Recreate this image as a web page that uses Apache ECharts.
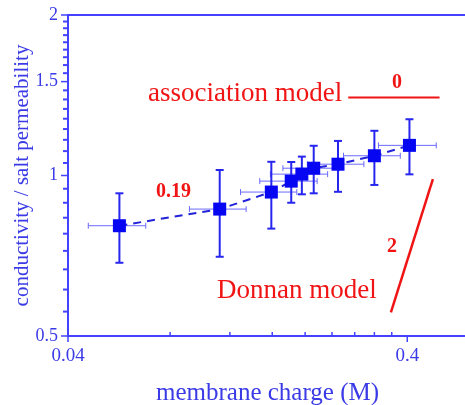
<!DOCTYPE html>
<html>
<head>
<meta charset="utf-8">
<script src="https://cdn.jsdelivr.net/npm/echarts@6/dist/echarts.min.js"></script>
<style>
html, body { margin: 0; padding: 0; background: #fff; }
#chart { width: 465px; height: 405px; }
</style>
</head>
<body>
<div id="chart"></div>
<script>
var charge     = [0.0567, 0.112, 0.159, 0.182, 0.1956, 0.212, 0.250, 0.320, 0.406];
var chargeLow  = [0.0459, 0.0912, 0.129, 0.147, 0.158, 0.172, 0.203, 0.2595, 0.329];
var chargeHigh = [0.0678, 0.134, 0.189, 0.217, 0.233, 0.252, 0.298, 0.3815, 0.487];
var ratio      = [0.805, 0.865, 0.931, 0.976, 1.006, 1.032, 1.050, 1.089, 1.139];
var ratioLow   = [0.686, 0.704, 0.795, 0.889, 0.922, 0.926, 0.932, 0.960, 1.005];
var ratioHigh  = [0.926, 1.024, 1.061, 1.060, 1.085, 1.137, 1.161, 1.213, 1.275];

// slope guides (log-log)
var assocLine  = [[0.268, 1.40], [0.498, 1.40]];
var donnanLine = [[0.358, 0.554], [0.476, 0.984]];

// tick values
var xMajorTicks  = [0.04, 0.4];
var xMajorLabels = ['0.04', '0.4'];
var xMinorTicks  = [0.08, 0.12, 0.16, 0.20, 0.24, 0.28, 0.32, 0.36];
var yMajorTicks  = [0.5, 1, 1.5, 2];
var yMajorLabels = ['0.5', '1', '1.5', '2'];
var yMinorTicks  = [0.5556, 0.6111, 0.6667, 0.7222, 0.7778, 0.8333, 0.8889, 0.9444,
                    1.0556, 1.1111, 1.1667, 1.2222, 1.2778, 1.3333, 1.3889, 1.4444,
                    1.5556, 1.6111, 1.6667, 1.7222, 1.7778, 1.8333, 1.8889, 1.9444];

var X_MIN = 0.04, X_MAX = 0.6, Y_MIN = 0.5, Y_MAX = 2;
var AXIS = '#4242ff', LABEL = '#3a3ae6', MARK = '#0606f2', RED = '#f01414';
var SERIF = '"Liberation Serif", "DejaVu Serif", serif';

var chart = echarts.init(document.getElementById('chart'));

var pts = [], xErr = [], yErr = [];
for (var i = 0; i < charge.length; i++) {
    pts.push([charge[i], ratio[i]]);
    xErr.push([charge[i], ratio[i], chargeLow[i], chargeHigh[i]]);
    yErr.push([charge[i], ratio[i], ratioLow[i], ratioHigh[i]]);
}

function txt(t, x, y, font, align, color) {
    return { type: 'text', style: { text: t, x: x, y: y, font: font, fill: color,
        textAlign: align, align: align, textVerticalAlign: 'middle', verticalAlign: 'middle' } };
}

var option = {
    animation: false,
    backgroundColor: '#fff',
    grid: { left: 68, top: 15, width: 399, height: 321, show: true,
            outerBoundsMode: 'none', containLabel: false,
            borderColor: AXIS, borderWidth: 2, backgroundColor: 'transparent' },
    xAxis: {
        type: 'log', logBase: 10, min: X_MIN, max: X_MAX,
        axisLine: { lineStyle: { color: AXIS, width: 2 } },
        axisTick: { show: false }, axisLabel: { show: false }, splitLine: { show: false },
        name: 'membrane charge (M)', nameLocation: 'middle', nameGap: 45,
        nameTextStyle: { color: LABEL, fontFamily: SERIF, fontSize: 25 }
    },
    yAxis: {
        type: 'log', logBase: 2, min: Y_MIN, max: Y_MAX,
        axisLine: { lineStyle: { color: AXIS, width: 2 } },
        axisTick: { show: false }, axisLabel: { show: false }, splitLine: { show: false },
        name: 'conductivity / salt permeability', nameLocation: 'middle', nameGap: 35, nameRotate: 90,
        nameTextStyle: { color: LABEL, fontFamily: SERIF, fontSize: 21 }
    },
    series: [
        {   // x ticks
            type: 'custom', silent: true, z: 1,
            data: xMajorTicks.map(function (v, k) { return [v, Y_MIN, 1, k]; })
                .concat(xMinorTicks.map(function (v) { return [v, Y_MIN, 0, -1]; })),
            renderItem: function (params, api) {
                var p = api.coord([api.value(0), Y_MIN]);
                var major = api.value(2) === 1;
                var kids = [{ type: 'line', shape: major ? { x1: p[0], y1: p[1], x2: p[0], y2: p[1] + 6 }
                                                       : { x1: p[0], y1: p[1], x2: p[0], y2: p[1] - 4 },
                              style: { stroke: AXIS, lineWidth: 1.5 } }];
                if (major) kids.push(txt(xMajorLabels[api.value(3)], p[0], p[1] + 20, '19px ' + SERIF, 'center', LABEL));
                return { type: 'group', children: kids };
            }
        },
        {   // y ticks
            type: 'custom', silent: true, z: 1,
            data: yMajorTicks.map(function (v, k) { return [X_MIN, v, 1, k]; })
                .concat(yMinorTicks.map(function (v) { return [X_MIN, v, 0, -1]; })),
            renderItem: function (params, api) {
                var p = api.coord([X_MIN, api.value(1)]);
                var major = api.value(2) === 1;
                var len = major ? 7 : 5;
                var kids = [{ type: 'line', shape: { x1: p[0] - len, y1: p[1], x2: p[0], y2: p[1] },
                              style: { stroke: AXIS, lineWidth: major ? 1.5 : 2 } }];
                if (major) kids.push(txt(yMajorLabels[api.value(3)], p[0] - 10, p[1], '18px ' + SERIF, 'right', LABEL));
                return { type: 'group', children: kids };
            }
        },
        {   // horizontal error bars
            type: 'custom', silent: true, z: 2, data: xErr,
            renderItem: function (params, api) {
                var a = api.coord([api.value(2), api.value(1)]);
                var b = api.coord([api.value(3), api.value(1)]);
                var st = { stroke: '#6a6aff', lineWidth: 1 };
                return { type: 'group', children: [
                    { type: 'line', shape: { x1: a[0], y1: a[1], x2: b[0], y2: b[1] }, style: st },
                    { type: 'line', shape: { x1: a[0], y1: a[1] - 3, x2: a[0], y2: a[1] + 3 }, style: st },
                    { type: 'line', shape: { x1: b[0], y1: b[1] - 3, x2: b[0], y2: b[1] + 3 }, style: st }
                ] };
            }
        },
        {   // dashed connecting line
            type: 'line', data: pts, symbol: 'none', z: 3, silent: true,
            lineStyle: { color: '#2222d8', width: 2, type: [8, 6] }
        },
        {   // vertical error bars
            type: 'custom', silent: true, z: 4, data: yErr,
            renderItem: function (params, api) {
                var a = api.coord([api.value(0), api.value(2)]);
                var b = api.coord([api.value(0), api.value(3)]);
                var st = { stroke: '#2626ee', lineWidth: 2 };
                return { type: 'group', children: [
                    { type: 'line', shape: { x1: a[0], y1: a[1], x2: b[0], y2: b[1] }, style: st },
                    { type: 'line', shape: { x1: a[0] - 4, y1: a[1], x2: a[0] + 4, y2: a[1] }, style: st },
                    { type: 'line', shape: { x1: b[0] - 4, y1: b[1], x2: b[0] + 4, y2: b[1] }, style: st }
                ] };
            }
        },
        {
            type: 'scatter', data: pts, symbol: 'rect', symbolSize: 13, z: 5,
            itemStyle: { color: MARK, opacity: 1 }
        },
        {
            type: 'line', data: assocLine, symbol: 'none', z: 3, silent: true,
            lineStyle: { color: RED, width: 2 }
        },
        {
            type: 'line', data: donnanLine, symbol: 'none', z: 3, silent: true,
            lineStyle: { color: RED, width: 2.5 }
        }
    ],
    graphic: [
        { type: 'text', left: 148, top: 80, style: { text: 'association model', fill: RED, font: '27px ' + SERIF } },
        { type: 'text', left: 217, top: 277, style: { text: 'Donnan model', fill: RED, font: '27px ' + SERIF } },
        { type: 'text', left: 392, top: 73, style: { text: '0', fill: RED, font: 'bold 20px ' + SERIF } },
        { type: 'text', left: 156, top: 182, style: { text: '0.19', fill: RED, font: 'bold 20px ' + SERIF } },
        { type: 'text', left: 387, top: 237, style: { text: '2', fill: RED, font: 'bold 20px ' + SERIF } }
    ]
};

chart.setOption(option);
</script>
</body>
</html>
